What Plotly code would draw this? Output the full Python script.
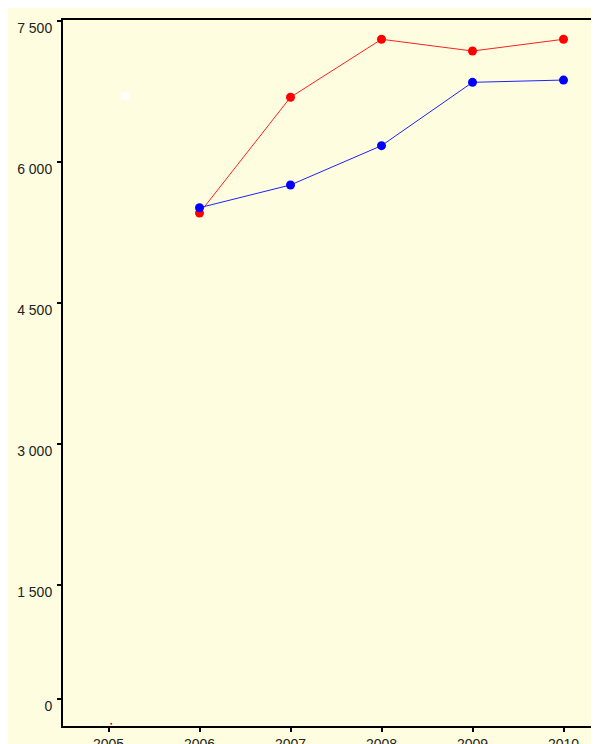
import plotly.graph_objects as go

years = [2006, 2007, 2008, 2009, 2010]
red_values = [5457, 6689, 7306, 7181, 7306]
blue_values = [5514, 5756, 6174, 6848, 6872]

x_ticks = [2005, 2006, 2007, 2008, 2009, 2010]
x_tick_labels = ["2005", "2006", "2007", "2008", "2009", "2010"]
y_tick_values = [287, 1500, 3000, 4500, 6000, 7500]
y_tick_labels = ["0", "1 500", "3 000", "4 500", "6 000", "7 500"]

white_point_x = [2005.19]
white_point_y = [6702]
stray_x = [2005.03]
stray_y = [25]

bg = "#FEFDE0"
font_family = "Liberation Sans, Arial, sans-serif"

fig = go.Figure()
fig.add_trace(go.Scatter(x=white_point_x, y=white_point_y, mode="markers",
                         marker=dict(symbol="square", size=8, color="white"),
                         showlegend=False, hoverinfo="skip"))
fig.add_trace(go.Scatter(x=stray_x, y=stray_y, mode="markers",
                         marker=dict(symbol="circle", size=2, color="red"),
                         showlegend=False, hoverinfo="skip"))
fig.add_trace(go.Scatter(x=years, y=red_values, mode="lines+markers",
                         line=dict(color="#FF2020", width=1),
                         marker=dict(symbol="circle", size=9, color="#FF0000"),
                         showlegend=False))
fig.add_trace(go.Scatter(x=years, y=blue_values, mode="lines+markers",
                         line=dict(color="#2020FF", width=1),
                         marker=dict(symbol="circle", size=9, color="#0000FF"),
                         showlegend=False))

fig.update_layout(
    width=603, height=736,
    margin=dict(l=55, r=2, t=12, b=18),
    paper_bgcolor=bg,
    plot_bgcolor=bg,
    font=dict(family=font_family, size=14, color="#222222"),
    xaxis=dict(range=[2004.5, 2010.5], tickvals=x_ticks, ticktext=x_tick_labels,
               showgrid=False, zeroline=False, showline=True, linecolor="#000000",
               linewidth=2, mirror=True, ticks="outside", ticklen=4, tickwidth=2,
               tickcolor="#000000", automargin=False),
    yaxis=dict(range=[0, 7511], tickvals=y_tick_values, ticktext=y_tick_labels,
               showgrid=False, zeroline=False, showline=True, linecolor="#000000",
               linewidth=2, mirror=True, ticks="outside", ticklen=4, tickwidth=2,
               tickcolor="#000000", ticklabelshift=7, ticklabelstandoff=2,
               automargin=False),
)

fig.write_html("out.html")
